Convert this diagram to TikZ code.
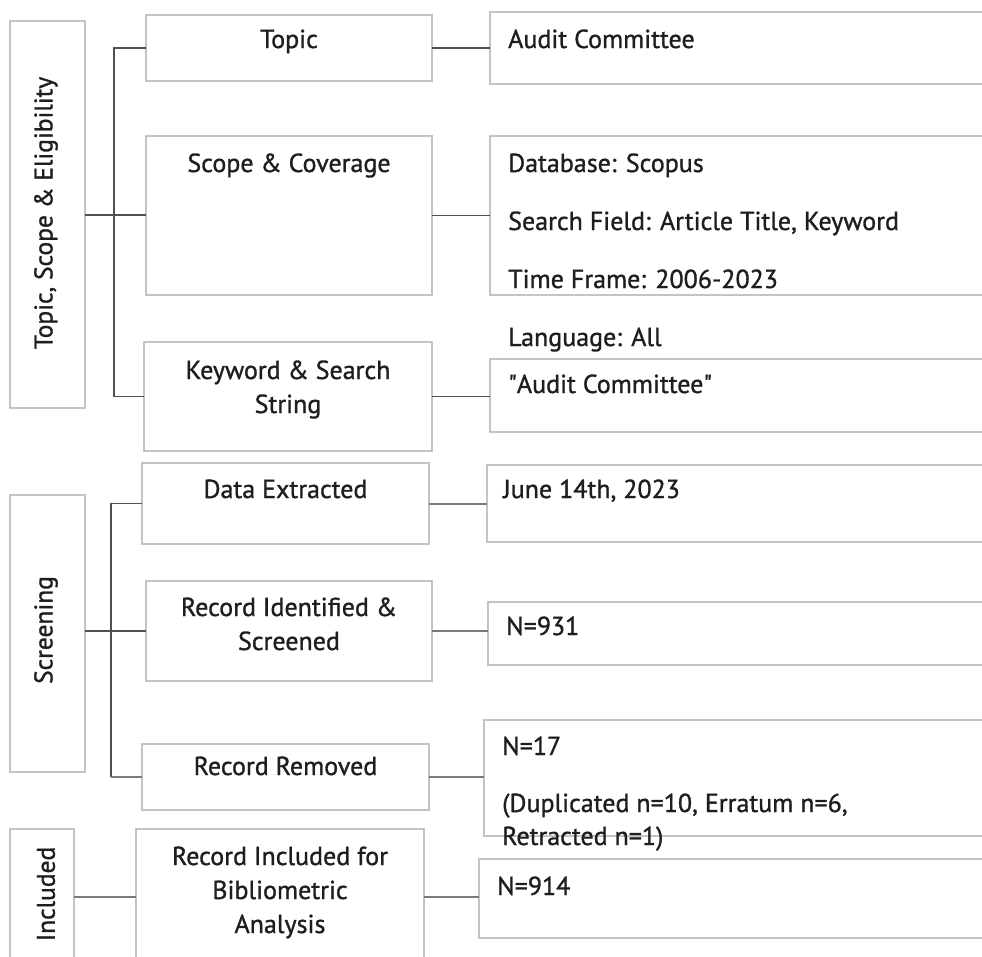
\documentclass[tikz,border=0pt]{standalone}
\usepackage{fontspec}
\setmainfont{PT Sans}[FakeBold=1.1]
\newfontfamily\rawquote{PT Sans}[FakeBold=1.1,Ligatures=TeXOff]
\definecolor{boxgray}{HTML}{C4C4C4}
\definecolor{linedark}{HTML}{505050}
\definecolor{linemid}{HTML}{7A7A7A}
\definecolor{txt}{HTML}{1E1E1E}
\tikzset{
  box/.style={draw=boxgray, line width=1.2pt, fill=white, inner sep=0pt, outer sep=0pt},
  rlbl/.style={text=txt, inner sep=0pt, font=\fontsize{26}{58}\selectfont, align=left, anchor=base west},
  clbl/.style={text=txt, inner sep=0pt, font=\fontsize{26}{34}\selectfont, align=center, anchor=base},
  vlbl/.style={text=txt, inner sep=0pt, font=\fontsize{25.5}{34}\selectfont, rotate=90},
  thin/.style={draw=linedark, line width=1.2pt},
  thick/.style={draw=linemid, line width=2pt},
}
\begin{document}
\begin{tikzpicture}[x=1pt,y=-1pt]
\useasboundingbox (0,0) rectangle (982,956);
\clip (0,0) rectangle (982,956);
% ---- Topic, Scope & Eligibility ----
\node[box, minimum width=75, minimum height=387] (tse) at (47.5,214.5) {};
\node[vlbl] (tset) at (46,213) {Topic, Scope \& Eligibility};
\node[box, minimum width=286, minimum height=66] (topic) at (289,48) {};
\node[clbl] (topict) at (289,48) {Topic};
\node[box, minimum width=286, minimum height=159] (scope) at (289,215.5) {};
\node[clbl] (scopet) at (289,172) {Scope \& Coverage};
\node[box, minimum width=288, minimum height=109] (kw) at (288,396.5) {};
\node[clbl] (kwt) at (288,413) {Keyword \& Search\\String};
\node[box, minimum width=500, minimum height=72] (audit) at (740,48) {};
\node[rlbl] (auditt) at (508,48) {Audit Committee};
\node[box, minimum width=500, minimum height=159] (scoper) at (740,215.5) {};
\node[rlbl] (scopert) at (508,346) {Database: Scopus\\Search Field: Article Title, Keyword\\Time Frame: 2006-2023\\Language: All};
\node[box, minimum width=500, minimum height=73] (kwr) at (740,395.5) {};
\node[rlbl] (kwrt) at (508,393) {{\rawquote\char34}Audit Committee{\rawquote\char34}};
\coordinate (t1) at (114,215);
\draw[thin] (tse.east |- t1) -- (scope.west |- t1);
\draw[thin] (topic.west) -- (topic.west -| t1) -- (kw.west -| t1) -- (kw.west);
\draw[thin] (topic.east) -- (audit.west);
\draw[thin] (scope.east) -- (scoper.west);
\draw[thin] (kw.east) -- (kw.east -| kwr.west);
% ---- Screening ----
\node[box, minimum width=75, minimum height=277] (scr) at (47.5,633.5) {};
\node[vlbl] (scrt) at (46,630) {Screening};
\node[box, minimum width=287, minimum height=81] (data) at (285.5,503.5) {};
\node[clbl] (datat) at (285.5,498) {Data Extracted};
\node[box, minimum width=286, minimum height=100] (ident) at (289,631) {};
\node[clbl] (identt) at (289,650) {Record Identified \&\\Screened};
\node[box, minimum width=287, minimum height=66] (rem) at (285.5,777) {};
\node[clbl] (remt) at (285.5,775) {Record Removed};
\node[box, minimum width=503, minimum height=77] (june) at (738.5,503.5) {};
\node[rlbl] (junet) at (503,498) {June 14th, 2023};
\node[box, minimum width=502, minimum height=63] (n931) at (739,633.5) {};
\node[rlbl] (n931t) at (506,635) {N=931};
\node[box, minimum width=506, minimum height=116] (n17) at (737,778) {};
\node[rlbl, font=\fontsize{26}{33}\selectfont] (n17t) at (502,845) {N=17\\[24pt](Duplicated n=10, Erratum n=6,\\Retracted n=1)};
\coordinate (t2) at (111,631);
\draw[thin] (scr.east |- t2) -- (ident.west |- t2);
\draw[thin] (data.west) -- (data.west -| t2) -- (rem.west -| t2);
\draw[thick] (rem.west -| t2) -- (rem.west);
\draw[thick] (data.east) -- (data.east -| june.west);
\draw[thick] (ident.east) -- (ident.east -| n931.west);
\draw[thick] (rem.east) -- (rem.east -| n17.west);
% ---- Included ----
\node[box, minimum width=64, minimum height=141] (inc) at (42,899.5) {};
\node[vlbl] (inct) at (46,894) {Included};
\node[box, minimum width=288, minimum height=141] (recinc) at (280,899.5) {};
\node[clbl] (recinct) at (280,933) {Record Included for\\Bibliometric\\Analysis};
\node[box, minimum width=511, minimum height=79] (n914) at (734.5,898.5) {};
\node[rlbl] (n914t) at (497,895) {N=914};
\coordinate (t3) at (100,897);
\draw[thick] (inc.east |- t3) -- (recinc.west |- t3);
\draw[thick] (recinc.east |- t3) -- (n914.west |- t3);
\end{tikzpicture}
\end{document}
